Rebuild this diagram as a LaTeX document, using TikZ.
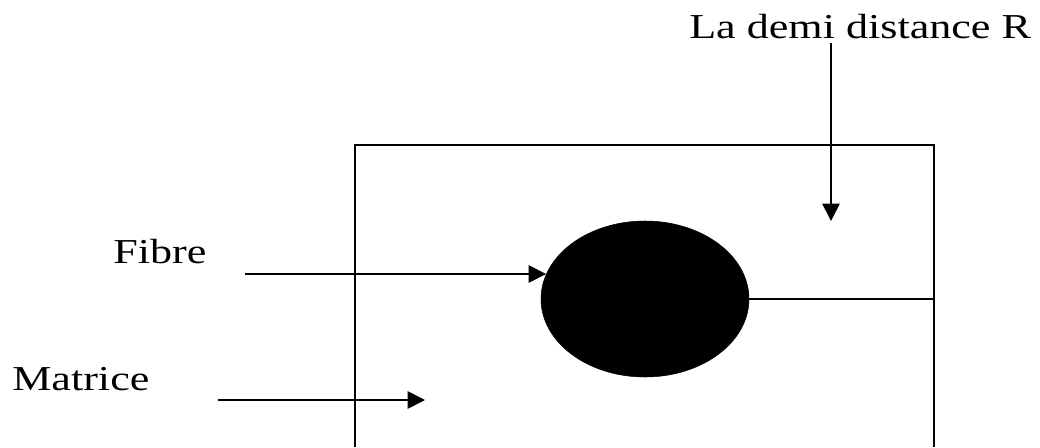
\documentclass[tikz,border=0pt]{standalone}
\usepackage{fontspec}
\newfontfamily\lblfont[FakeStretch=1.26]{Liberation Serif}
\usetikzlibrary{calc, positioning, shapes.geometric, arrows.meta}

\begin{document}
\begin{tikzpicture}[
  x=0.75pt, y=-0.75pt,
  lbl/.style={anchor=base west, inner sep=0pt, font=\fontsize{26.25pt}{30pt}\lblfont},
  fl/.style={line width=1.3pt, -{Triangle[length=13pt, width=13pt]}},
  bord/.style={line width=2pt},
]
\useasboundingbox (0,0) rectangle (1040,447);

% cellule
\coordinate (bl) at (355,447);
\coordinate (tl) at (355,145);
\coordinate (tr) at (934,145);
\coordinate (br) at (934,447);
\draw[bord] (bl) -- (tl) -- (tr) -- (br);

\node[ellipse, fill=black, draw=black, minimum width=156pt, minimum height=117pt,
      inner sep=0pt] (fib) at (645,299) {};
\draw[line width=1.4pt] (fib.east) -- (fib.east -| tr);

% textes
\node[lbl] (tR) at (689,38) {La demi distance R};
\node[lbl] (tF) at (113,263) {Fibre};
\node[lbl] (tM) at (12,390) {Matrice};

\coordinate (aR) at (831,43);
\coordinate (eR) at (831,221);
\coordinate (aF) at (245,274);
\coordinate (aM) at (218,400);
\coordinate (eM) at (425,400);

\draw[fl] (aR) -- (eR);
\draw[fl] (aF) -- (aF -| fib.166);
\draw[fl] (aM) -- (eM);

\end{tikzpicture}
\end{document}
